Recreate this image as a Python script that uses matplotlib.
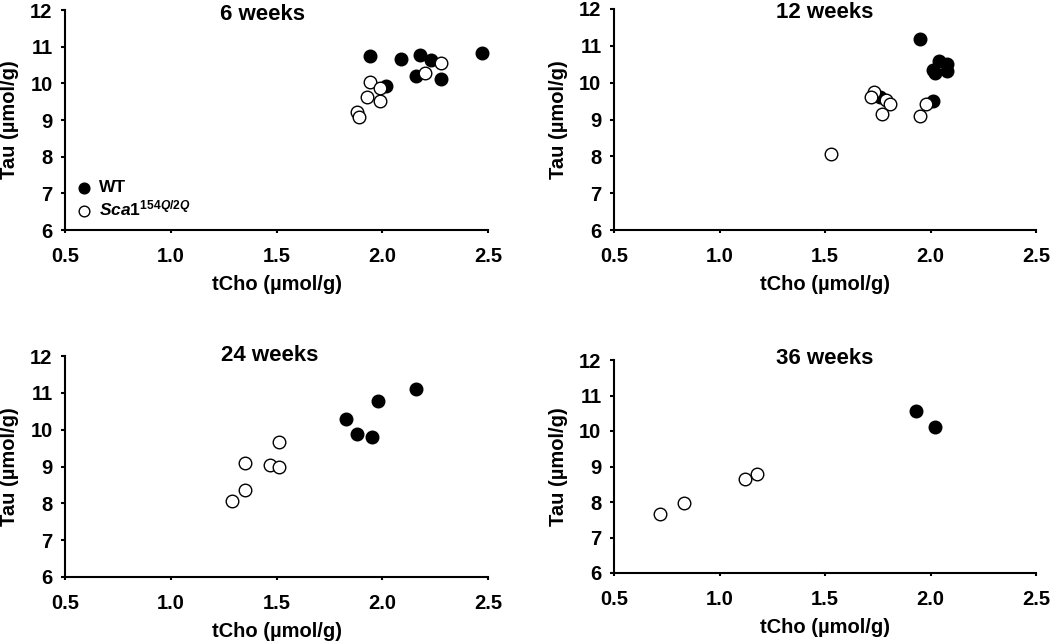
import matplotlib
matplotlib.use("Agg")
import matplotlib.pyplot as plt

plt.rcParams['font.family'] = ['Liberation Sans', 'DejaVu Sans']
plt.rcParams['font.weight'] = 'bold'
plt.rcParams['mathtext.fontset'] = 'custom'
plt.rcParams['mathtext.it'] = 'Liberation Sans:italic:bold'
plt.rcParams['mathtext.rm'] = 'Liberation Sans:bold'

# --------- data ---------
titles = ["6 weeks", "12 weeks", "24 weeks", "36 weeks"]

wt6_x = [1.94, 2.09, 2.18, 2.23, 2.47, 2.16, 2.28, 2.02]
wt6_y = [10.75, 10.66, 10.77, 10.64, 10.84, 10.21, 10.11, 9.94]
ko6_x = [1.94, 1.99, 1.93, 1.99, 1.88, 1.89, 2.20, 2.28]
ko6_y = [10.03, 9.87, 9.64, 9.53, 9.21, 9.08, 10.27, 10.55]

wt12_x = [1.95, 2.04, 2.08, 2.01, 2.02, 2.08, 2.01, 1.76]
wt12_y = [11.18, 10.59, 10.50, 10.35, 10.27, 10.32, 9.51, 9.62]
ko12_x = [1.73, 1.72, 1.79, 1.81, 1.77, 1.95, 1.98, 1.53]
ko12_y = [9.76, 9.62, 9.53, 9.42, 9.15, 9.10, 9.42, 8.06]

wt24_x = [2.16, 1.98, 1.83, 1.88, 1.95]
wt24_y = [11.11, 10.79, 10.30, 9.87, 9.81]
ko24_x = [1.51, 1.35, 1.47, 1.51, 1.35, 1.29]
ko24_y = [9.67, 9.09, 9.03, 9.00, 8.36, 8.06]

wt36_x = [1.93, 2.02]
wt36_y = [10.55, 10.12]
ko36_x = [0.72, 0.83, 1.12, 1.18]
ko36_y = [7.66, 7.96, 8.64, 8.78]

wt_x = [wt6_x, wt12_x, wt24_x, wt36_x]
wt_y = [wt6_y, wt12_y, wt24_y, wt36_y]
ko_x = [ko6_x, ko12_x, ko24_x, ko36_x]
ko_y = [ko6_y, ko12_y, ko24_y, ko36_y]

# --------- layout ---------
fig = plt.figure(figsize=(10.5, 6.43), dpi=100)
H = 643.0
# left, top, right, bottom in pixels
boxes = [(65, 10, 488, 230), (614, 9, 1036, 230),
         (65, 356, 488, 577), (614, 360, 1036, 573)]
title_pos = [(0.468, 0.955), (0.5, 0.958), (0.485, 0.978), (0.5, 0.983)]

for i, (l, t, r, b) in enumerate(boxes):
    ax = fig.add_axes([l / 1050, 1 - b / H, (r - l) / 1050, (b - t) / H])
    ax.scatter(wt_x[i], wt_y[i], s=82, c='black', edgecolors='black',
               linewidths=1.0, zorder=3, label='WT', clip_on=False)
    ax.scatter(ko_x[i], ko_y[i], s=82, c='white', edgecolors='black',
               linewidths=1.0, zorder=4, label=r'$\mathit{Sca1}^{\mathit{154Q/2Q}}$',
               clip_on=False)
    ax.set_xlim(0.5, 2.5)
    ax.set_ylim(6, 12)
    ax.set_xticks([0.5, 1.0, 1.5, 2.0, 2.5])
    ax.set_xticklabels(["0.5", "1.0", "1.5", "2.0", "2.5"])
    ax.set_yticks(range(6, 13))
    for s in ['top', 'right']:
        ax.spines[s].set_visible(False)
    for s in ['left', 'bottom']:
        ax.spines[s].set_linewidth(1.5)
    ax.tick_params(axis='y', direction='out', length=3, width=1.5, pad=6, labelsize=14.5)
    ax.tick_params(axis='x', direction='out', length=2.5, width=1.5, pad=10, labelsize=14.5)
    ax.set_xlabel("tCho (µmol/g)", fontsize=14.5, fontweight='bold', labelpad=6.5)
    ax.set_ylabel("Tau (µmol/g)", fontsize=14.5, fontweight='bold', labelpad=8)
    tx, ty = title_pos[i]
    ax.text(tx, ty, titles[i], transform=ax.transAxes, ha='center', va='baseline',
            fontsize=16, fontweight='bold')
    if i == 0:
        ax.legend(loc='lower left', bbox_to_anchor=(-0.013, 0.02), frameon=False,
                  fontsize=12.5, handletextpad=-0.15, labelspacing=0.2,
                  borderaxespad=0, markerscale=0.85)

fig.savefig("out.png", dpi=100)
